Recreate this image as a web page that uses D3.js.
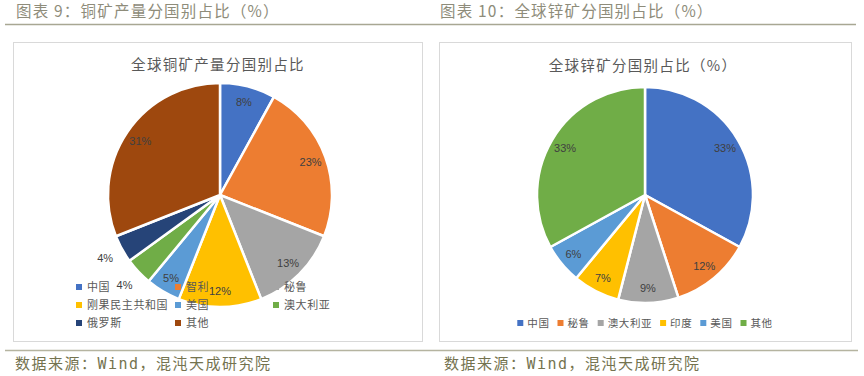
<!DOCTYPE html>
<html>
<head>
<meta charset="utf-8">
<script src="https://cdn.jsdelivr.net/npm/d3@7"></script>
<style>
  html, body { margin: 0; padding: 0; background: #fff; }
  svg { display: block; font-family: "Noto Sans CJK SC", "Noto Sans", sans-serif; }
</style>
</head>
<body>
<svg id="chart" width="864" height="376"></svg>
<script>
// 铜矿 / 锌矿 分国别占比, 两个饼图并排
const copperNames = ["中国", "智利", "秘鲁", "刚果民主共和国", "美国", "澳大利亚", "俄罗斯", "其他"];
const copperValues = [8, 23, 13, 12, 5, 4, 4, 31];
const copperColors = ["#4472C4", "#ED7D31", "#A5A5A5", "#FFC000", "#5B9BD5", "#70AD47", "#264478", "#9E480E"];

const zincNames = ["中国", "秘鲁", "澳大利亚", "印度", "美国", "其他"];
const zincValues = [33, 12, 9, 7, 6, 33];
const zincColors = ["#4472C4", "#ED7D31", "#A5A5A5", "#FFC000", "#5B9BD5", "#70AD47"];

const headers = ["图表 9：铜矿产量分国别占比（%）", "图表 10：全球锌矿分国别占比（%）"];
const titles = ["全球铜矿产量分国别占比", "全球锌矿分国别占比（%）"];
const source = "数据来源：Wind，混沌天成研究院";

const svg = d3.select("#chart");
const headColor = "#8e8c7a";
const textColor = "#595959";

// 页眉与页脚的线
svg.append("line").attr("x1", 5).attr("x2", 856).attr("y1", 24.5).attr("y2", 24.5)
  .attr("stroke", "#a8a793").attr("stroke-width", 1.3);
svg.append("line").attr("x1", 5).attr("x2", 858).attr("y1", 350.5).attr("y2", 350.5)
  .attr("stroke", "#b5b4a0").attr("stroke-width", 1.3);

[16, 440].forEach((x, i) => {
  svg.append("text").attr("x", x).attr("y", 17).attr("fill", headColor)
    .attr("font-size", 15.5).attr("letter-spacing", 1.2).text(headers[i]);
});
[15, 444].forEach((x) => {
  svg.append("text").attr("x", x).attr("y", 369).attr("fill", "#74734f")
    .attr("font-size", 15).attr("letter-spacing", 1.5)
    .attr("font-family", "'DejaVu Sans Mono', 'Noto Sans CJK SC', monospace").text(source);
});

function drawPie(cfg) {
  const g = svg.append("g");
  g.append("rect").attr("x", cfg.box[0] + 0.5).attr("y", cfg.box[1] + 0.5)
    .attr("width", cfg.box[2]).attr("height", cfg.box[3])
    .attr("fill", "#fff").attr("stroke", "#d9d9d9");

  g.append("text").attr("x", cfg.cx - 2).attr("y", cfg.titleY).attr("text-anchor", "middle")
    .attr("fill", textColor).attr("font-size", 14.5).attr("letter-spacing", 1.3).text(cfg.title);

  const data = cfg.names.map((n, i) => ({ name: n, value: cfg.values[i], color: cfg.colors[i] }));
  const arcs = d3.pie().sort(null).value((d) => d.value)(data);
  const arc = d3.arc().innerRadius(0).outerRadius(cfg.r);
  const pg = g.append("g").attr("transform", `translate(${cfg.cx},${cfg.cy})`);

  pg.selectAll("path").data(arcs).join("path")
    .attr("d", arc).attr("fill", (d) => d.data.color)
    .attr("stroke", "#fff").attr("stroke-width", 2.5).attr("stroke-linejoin", "round");

  // 小扇区标签放在饼外
  const inside = d3.arc().innerRadius(cfg.r * 0.86).outerRadius(cfg.r * 0.86);
  const outside = d3.arc().innerRadius(cfg.r * 1.17).outerRadius(cfg.r * 1.17);
  pg.selectAll("text").data(arcs).join("text")
    .attr("transform", (d) => `translate(${(d.data.value < 5 ? outside : inside).centroid(d)})`)
    .attr("text-anchor", "middle").attr("dy", "0.35em")
    .attr("font-family", "'Liberation Sans', Arial, sans-serif").attr("font-size", 11)
    .attr("fill", "#404040").text((d) => d.data.value + "%");

  // 图例
  const lg = g.append("g").attr("font-size", cfg.legendFont).attr("fill", textColor).attr("letter-spacing", 0.6);
  if (cfg.legendCols) {
    data.forEach((d, i) => {
      const x = cfg.legendCols[i % 3];
      const y = cfg.legendY + Math.floor(i / 3) * 18;
      lg.append("rect").attr("x", x).attr("y", y - 3).attr("width", 6).attr("height", 6).attr("fill", d.color);
      lg.append("text").attr("x", x + 11).attr("y", y).attr("dy", "0.35em").text(d.name);
    });
  } else {
    const items = data.map((d) => {
      const t = lg.append("text").attr("dy", "0.35em").attr("y", cfg.legendY).text(d.name);
      return { d, t, w: t.node().getComputedTextLength() };
    });
    const total = d3.sum(items, (it) => it.w + 10) + (items.length - 1) * 8;
    let x = cfg.cx - total / 2;
    items.forEach((it) => {
      lg.append("rect").attr("x", x).attr("y", cfg.legendY - 3).attr("width", 6).attr("height", 6).attr("fill", it.d.color);
      it.t.attr("x", x + 10);
      x += it.w + 10 + 8;
    });
  }
}

drawPie({
  box: [13, 42, 409, 299], cx: 220, cy: 195, r: 112, titleY: 70,
  title: titles[0], names: copperNames, values: copperValues, colors: copperColors,
  legendCols: [76, 175, 273], legendY: 287, legendFont: 11,
});
drawPie({
  box: [439, 42, 412, 299], cx: 645, cy: 195, r: 108, titleY: 71,
  title: titles[1], names: zincNames, values: zincValues, colors: zincColors,
  legendY: 323, legendFont: 10.5,
});
</script>
</body>
</html>
